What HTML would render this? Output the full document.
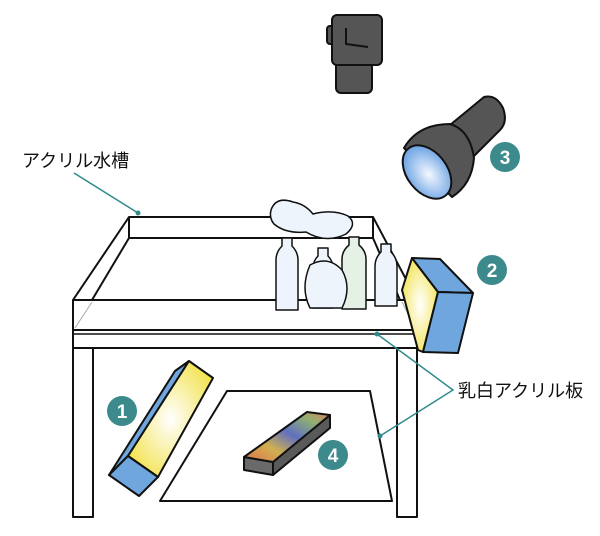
<!DOCTYPE html>
<html><head><meta charset="utf-8"><style>
html,body{margin:0;padding:0;background:#fff;}
svg{display:block;}
text{font-family:"Liberation Sans","Noto Sans CJK JP",sans-serif;}
</style></head><body>
<svg width="600" height="536" viewBox="0 0 600 536" xmlns="http://www.w3.org/2000/svg">
<defs>
<radialGradient id="yel" cx="0.5" cy="0.5" r="0.6"><stop offset="0" stop-color="#fff"/><stop offset="1" stop-color="#f2e24a"/></radialGradient>
<radialGradient id="blu" cx="0.5" cy="0.55" r="0.6"><stop offset="0" stop-color="#f4f8ff"/><stop offset="1" stop-color="#5f9be0"/></radialGradient>
<linearGradient id="rb" x1="0" y1="1" x2="1" y2="0"><stop offset="0" stop-color="#e07050"/><stop offset="0.3" stop-color="#d0b050"/><stop offset="0.55" stop-color="#6070c0"/><stop offset="0.8" stop-color="#90b070"/><stop offset="1" stop-color="#e08060"/></linearGradient>
</defs>
<g stroke="#111" stroke-width="2" fill="none" stroke-linejoin="round">
<polyline points="73,300 129,217 373,217 417,300"/>
<line x1="129" y1="238" x2="373" y2="238"/>
<line x1="129" y1="217" x2="129" y2="238"/>
<line x1="373" y1="217" x2="373" y2="238"/>
<line x1="129" y1="238" x2="92" y2="300"/>
<line x1="373" y1="238" x2="400" y2="300"/>
<rect x="73" y="300" width="344" height="30"/>
<line x1="73" y1="334" x2="417" y2="334" stroke-width="1.5"/>
<line x1="73" y1="348" x2="417" y2="348"/>
<polyline points="73,330 73,517 93,517 93,348"/>
<polyline points="417,330 417,517 397,517 397,348"/>
<polygon points="227,391 370,391 392,501 160,501"/>
</g>
<g stroke="#aaa" stroke-width="1" fill="none">
<line x1="75" y1="328" x2="92" y2="302"/><line x1="415" y1="328" x2="402" y2="302"/>
</g>
<g stroke="#111" stroke-width="1.5" fill="#eef4fb" stroke-linejoin="round">
<path d="M282,238 h10 v8 q6,6 6,14 v50 h-22 v-50 q0,-8 6,-14z"/>
<path d="M318,248 h10 v8 q5,5 5,12 v40 h-20 v-40 q0,-7 5,-12z"/>
<path d="M349,237 h10 v8 q7,6 7,14 v50 h-24 v-50 q0,-8 7,-14z" fill="#e6f1e6"/>
<path d="M381,244 h10 v8 q6,6 6,14 v40 h-22 v-40 q0,-8 6,-14z"/>
<path d="M310,265 q18,-10 32,5 q10,18 0,38 h-32 q-10,-20 0,-43z"/>
<path d="M271,210 q5,-14 22,-8 q12,2 20,12 q20,-5 35,2 q10,8 -2,18 q-20,10 -40,-2 q-20,2 -32,-8 q-5,-6 -3,-14z"/>
</g>
<g stroke="#111" stroke-width="2" stroke-linejoin="round">
<polygon points="109,475 128,456 189,361 175,371" fill="#6fa6dd"/>
<polygon points="189,361 213,378 158,477 128,456" fill="url(#yel)"/>
<polygon points="128,456 158,477 139,496 109,475" fill="#6fa6dd"/>
</g>
<g stroke="#111" stroke-width="2" stroke-linejoin="round">
<polygon points="244,457 273,462 273,475 244,470" fill="#6a6a6a"/>
<polygon points="273,462 330,415 330,428 273,475" fill="#5a5a5a"/>
<polygon points="244,457 307,412 330,415 273,462" fill="url(#rb)"/>
</g>
<g stroke="#111" stroke-width="2" stroke-linejoin="round">
<polygon points="412,258 438,292 423,352 418,350 402,290" fill="url(#yel)"/>
<polygon points="412,258 440,259 473,293 438,292" fill="#6fa6dd"/>
<polygon points="438,292 473,293 458,353 423,352" fill="#6fa6dd"/>
</g>
<g stroke="#111" stroke-width="2" fill="#555" stroke-linejoin="round">
<rect x="336" y="60" width="36" height="33" rx="5"/>
<rect x="327" y="26" width="10" height="18" rx="3"/>
<rect x="332" y="15" width="50" height="50" rx="5"/>
<polyline points="346,28 346,44 368,47" fill="none"/>
</g>
<g stroke="#111" stroke-width="2" stroke-linejoin="round">
<path d="M450,125 L484,97 Q496,94 503,108 Q508,122 500,130 L472,158 Z" fill="#555"/>
<path d="M404,148 Q418,124 450,124 Q470,130 474,158 Q472,184 452,197 Z" fill="#555"/>
<ellipse cx="427" cy="172" rx="20" ry="30" transform="rotate(-38 427 172)" fill="url(#blu)"/>
</g>
<g fill="#3c8a8c">
<circle cx="122" cy="411" r="15"/><circle cx="333" cy="455" r="15"/>
<circle cx="505" cy="157" r="15"/><circle cx="492" cy="270" r="15"/>
</g>
<g fill="#fff" font-size="19" font-weight="bold" text-anchor="middle">
<text x="122" y="418">1</text><text x="333" y="462">4</text>
<text x="505" y="164">3</text><text x="492" y="277">2</text>
</g>
<g stroke="#2e8a8c" stroke-width="1.5" fill="none">
<line x1="74" y1="173" x2="138" y2="213"/>
<polyline points="377,334 453,390 380,436"/>
</g>
<g fill="#2e8a8c"><circle cx="138" cy="213" r="2.5"/><circle cx="377" cy="334" r="2.5"/><circle cx="380" cy="436" r="2.5"/></g>
<g fill="#111" font-size="18">
<text x="22" y="167">アクリル水槽</text>
<text x="458" y="397">乳白アクリル板</text>
</g>
</svg>
</body></html>
